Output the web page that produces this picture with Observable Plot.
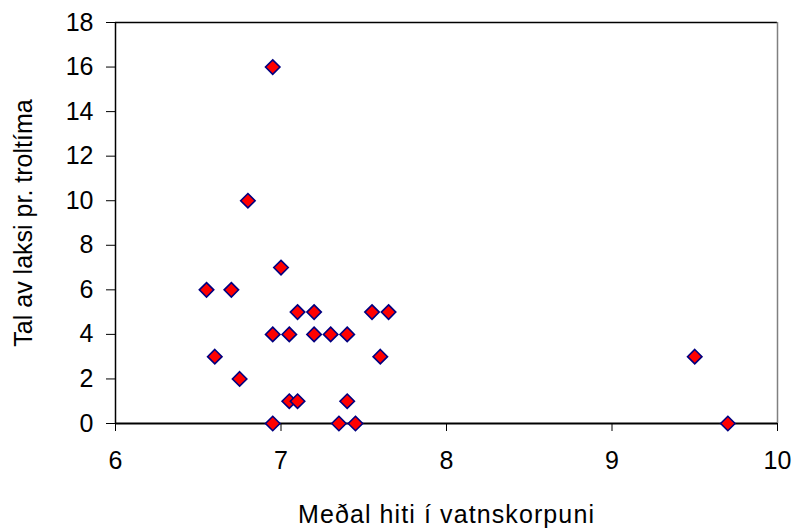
<!DOCTYPE html>
<html>
<head>
<meta charset="utf-8">
<script src="https://cdn.jsdelivr.net/npm/d3@7"></script>
<script src="https://cdn.jsdelivr.net/npm/@observablehq/plot@0.6"></script>
<style>
  html, body { margin: 0; padding: 0; background: #fff; }
  #chart svg { display: block; }
  #chart svg text { font-size: 25px; font-family: 'Liberation Sans', Arial, sans-serif; fill: #000; }
  #chart svg g[aria-label="x-axis label"] text { letter-spacing: 1.1px; }
</style>
</head>
<body>
<div id="chart"></div>
<script>
const temperature = [6.95, 6.8, 7.0, 6.55, 6.7, 7.1, 7.2, 7.55, 7.65, 6.95, 7.05, 7.2, 7.3, 7.4, 6.6, 7.6, 6.75, 7.05, 7.1, 7.4, 6.95, 7.35, 7.45, 9.5, 9.7];
const salmonCount = [16, 10, 7, 6, 6, 5, 5, 5, 5, 4, 4, 4, 4, 4, 3, 3, 2, 1, 1, 1, 0, 0, 0, 3, 0];
const xTicks = [6, 7, 8, 9, 10];
const yTicks = [0, 2, 4, 6, 8, 10, 12, 14, 16, 18];
const xLabel = "Meðal hiti í vatnskorpuni";
const yLabel = "Tal av laksi pr. troltíma";

const data = temperature.map((t, i) => ({ t, n: salmonCount[i] }));

const chart = Plot.plot({
  width: 793,
  height: 528,
  marginLeft: 115,
  marginRight: 16,
  marginTop: 22,
  marginBottom: 105,
  style: { fontFamily: "'Liberation Sans', Arial, sans-serif", fontSize: "25px", color: "#000", background: "#fff" },
  x: { domain: [6, 10] },
  y: { domain: [0, 18] },
  marks: [
    Plot.axisX({ ticks: xTicks, tickSize: 8, tickPadding: 20, tickFormat: d => d, label: xLabel, labelAnchor: "center", labelArrow: "none", labelOffset: 99 }),
    Plot.axisY({ ticks: yTicks, tickSize: 9, tickPadding: 13, tickFormat: d => d, label: yLabel, labelAnchor: "center", labelArrow: "none", labelOffset: 101 }),
    Plot.ruleY([18], { stroke: "#000", strokeWidth: 1.5 }),
    Plot.ruleX([10], { stroke: "#808080", strokeWidth: 1.5 }),
    Plot.ruleX([6], { stroke: "#000", strokeWidth: 1.5 }),
    Plot.ruleY([0], { stroke: "#000", strokeWidth: 2 }),
    Plot.dot(data, { x: "t", y: "n", symbol: "diamond2", r: 6.5, fill: "#ff0000", stroke: "#000080", strokeWidth: 1.6 })
  ]
});
document.getElementById("chart").appendChild(chart);
</script>
</body>
</html>
